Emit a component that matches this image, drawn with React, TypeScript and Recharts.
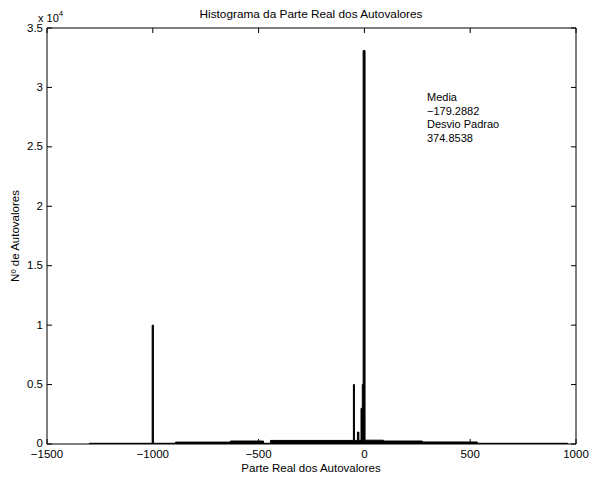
import React from 'react';
import { ComposedChart, Area, XAxis, YAxis } from 'recharts';

// Histogram bins (real part of eigenvalues)
const binStarts = [-1300, -1003, -997, -893, -633, -477, -444, -52, -47, -33, -26, -16, -10, -6, 3, 90, 274, 534];
const binEnds = [-1003, -997, -893, -633, -477, -444, -52, -47, -33, -26, -16, -10, -6, 3, 90, 274, 534, 960];
const counts = [60, 10000, 60, 160, 250, 60, 300, 5000, 300, 1000, 300, 3000, 5000, 33100, 320, 250, 170, 60];

const xTicks = [-1500, -1000, -500, 0, 500, 1000];
const xTickLabels = ['\u22121500', '\u22121000', '\u2212500', '0', '500', '1000'];
const yTicks = [0, 5000, 10000, 15000, 20000, 25000, 30000, 35000];
const yTickLabels = ['0', '0.5', '1', '1.5', '2', '2.5', '3', '3.5'];

const titleText = 'Histograma da Parte Real dos Autovalores';
const xLabelText = 'Parte Real dos Autovalores';
const yLabelText = 'N\u00ba de Autovalores';
const statsLines = ['Media', '\u2212179.2882', 'Desvio Padrao', '374.8538'];

const stepData: { x: number; y: number }[] = [{ x: binStarts[0], y: 0 }];
binStarts.forEach((s, i) => {
  stepData.push({ x: s, y: counts[i] });
});
stepData.push({ x: binEnds[binEnds.length - 1], y: 0 });

const FONT = '"Liberation Sans", Arial, Helvetica, sans-serif';
const FS = 11;
const TFS = 11.5;
const TL = 5;

const BottomTick = (p: any) => {
  const idx = xTicks.indexOf(p.payload.value);
  return (
    <g>
      <line x1={p.x} y1={p.y} x2={p.x} y2={p.y - TL} stroke="#000" strokeWidth={1} />
      <text x={p.x} y={p.y + 13.5} textAnchor="middle" fontFamily={FONT} fontSize={TFS} fill="#000">
        {xTickLabels[idx]}
      </text>
    </g>
  );
};

const TopTick = (p: any) => (
  <line x1={p.x} y1={p.y} x2={p.x} y2={p.y + TL} stroke="#000" strokeWidth={1} />
);

const LeftTick = (p: any) => {
  const idx = yTicks.indexOf(p.payload.value);
  const dy = idx === 0 ? 2.5 : 3.5;
  return (
    <g>
      <line x1={p.x} y1={p.y} x2={p.x + TL} y2={p.y} stroke="#000" strokeWidth={1} />
      <text x={p.x - 4} y={p.y + dy} textAnchor="end" fontFamily={FONT} fontSize={TFS} fill="#000">
        {yTickLabels[idx]}
      </text>
    </g>
  );
};

const RightTick = (p: any) => (
  <line x1={p.x} y1={p.y} x2={p.x - TL} y2={p.y} stroke="#000" strokeWidth={1} />
);

export default function App() {
  const axisCommon = { tickSize: 0, tickMargin: 0, tickLine: false, axisLine: { stroke: '#000', strokeWidth: 1 } };
  return (
    <div style={{ position: 'absolute', left: 0, top: 0, width: 590, height: 479, background: '#fff' }}>
      <ComposedChart width={590} height={479} data={stepData} margin={{ top: 27, right: 13, bottom: 0, left: 0 }}>
        <XAxis
          xAxisId="b"
          dataKey="x"
          type="number"
          domain={[-1500, 1000]}
          ticks={xTicks}
          interval={0}
          orientation="bottom"
          height={35}
          allowDataOverflow
          tick={<BottomTick />}
          {...axisCommon}
        />
        <XAxis
          xAxisId="t"
          dataKey="x"
          type="number"
          domain={[-1500, 1000]}
          ticks={xTicks}
          interval={0}
          orientation="top"
          height={1}
          allowDataOverflow
          tick={<TopTick />}
          {...axisCommon}
        />
        <YAxis
          yAxisId="l"
          type="number"
          domain={[0, 35000]}
          ticks={yTicks}
          interval={0}
          orientation="left"
          width={47}
          allowDataOverflow
          tick={<LeftTick />}
          {...axisCommon}
        />
        <YAxis
          yAxisId="r"
          type="number"
          domain={[0, 35000]}
          ticks={yTicks}
          interval={0}
          orientation="right"
          width={1}
          allowDataOverflow
          tick={<RightTick />}
          {...axisCommon}
        />
        <Area
          xAxisId="b"
          yAxisId="l"
          type="stepAfter"
          dataKey="y"
          stroke="#000"
          strokeWidth={1}
          fill="#000"
          fillOpacity={1}
          isAnimationActive={false}
          dot={false}
          activeDot={false}
        />
      </ComposedChart>
      <svg
        width={590}
        height={479}
        style={{ position: 'absolute', left: 0, top: 0, pointerEvents: 'none' }}
        fontFamily={FONT}
        fontSize={FS}
        fill="#000"
      >
        <text x={311} y={18} textAnchor="middle" fontSize={11.8}>{titleText}</text>
        <text x={311} y={472} textAnchor="middle" fontSize={11.5}>{xLabelText}</text>
        <text x={19} y={236} textAnchor="middle" fontSize={11.5} transform="rotate(-90 19 236)">{yLabelText}</text>
        <text x={38} y={22}>
          x 10<tspan dy={-6} fontSize={8}>4</tspan>
        </text>
        {statsLines.map((s, i) => (
          <text key={i} x={427} y={101 + i * 13.5}>{s}</text>
        ))}
      </svg>
    </div>
  );
}
